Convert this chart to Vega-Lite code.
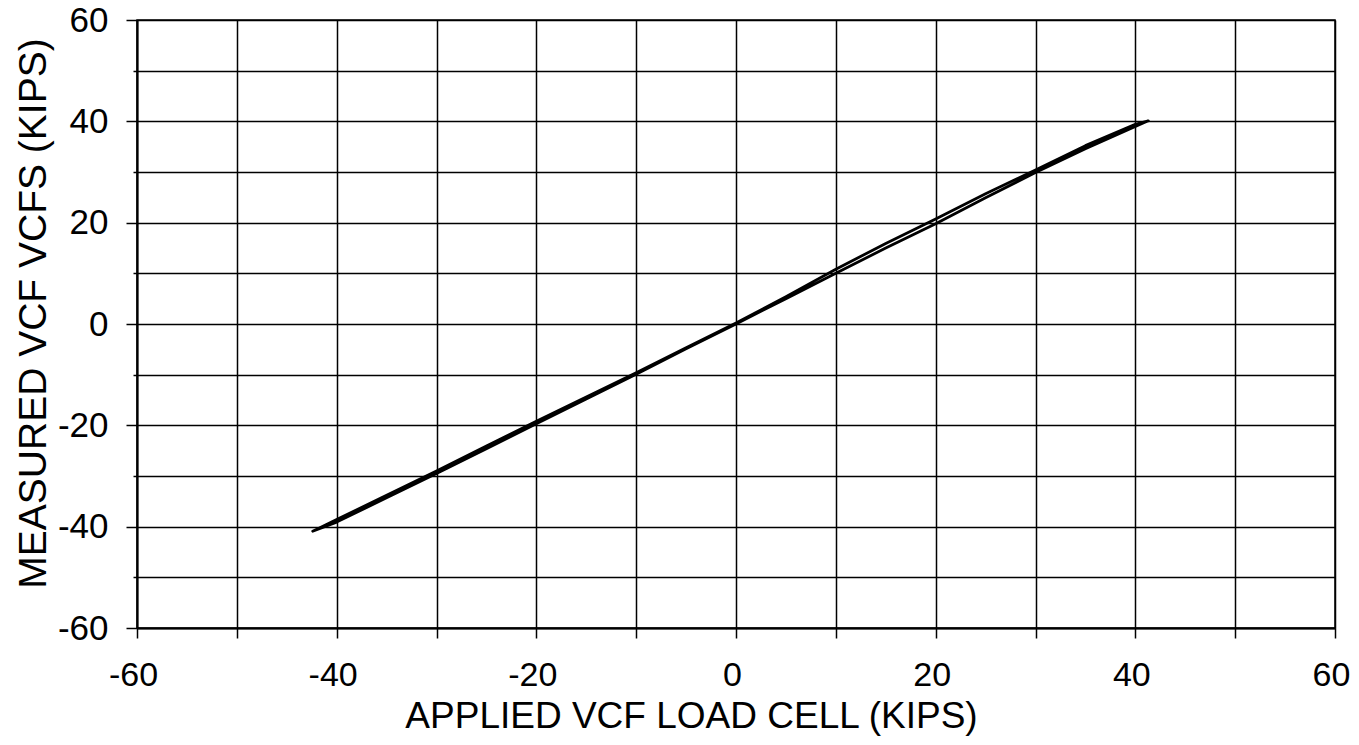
{
  "$schema": "https://vega.github.io/schema/vega-lite/v6.json",
  "width": 1198,
  "height": 608,
  "autosize": {"type": "none"},
  "padding": {"left": 137, "top": 20, "right": 24, "bottom": 117},
  "background": "white",
  "config": {
    "view": {"stroke": "black", "strokeWidth": 1.5},
    "font": "Liberation Sans"
  },
  "data": {
    "values": [
      {"i": 1, "x": 0, "y": 0},
      {"i": 2, "x": 5, "y": 5.0},
      {"i": 3, "x": 10, "y": 10.0},
      {"i": 4, "x": 15, "y": 15.0},
      {"i": 5, "x": 20, "y": 19.8},
      {"i": 6, "x": 25, "y": 24.9},
      {"i": 7, "x": 30, "y": 29.9},
      {"i": 8, "x": 35, "y": 34.6},
      {"i": 9, "x": 40, "y": 39.0},
      {"i": 10, "x": 41.3, "y": 40.1},
      {"i": 11, "x": 40, "y": 39.4},
      {"i": 12, "x": 35, "y": 35.2},
      {"i": 13, "x": 30, "y": 30.4},
      {"i": 14, "x": 25, "y": 25.7},
      {"i": 15, "x": 20, "y": 20.7},
      {"i": 16, "x": 15, "y": 15.9},
      {"i": 17, "x": 10, "y": 10.8},
      {"i": 18, "x": 5, "y": 5.4},
      {"i": 19, "x": 0, "y": 0.2},
      {"i": 20, "x": -5, "y": -4.7},
      {"i": 21, "x": -10, "y": -9.6},
      {"i": 22, "x": -15, "y": -14.4},
      {"i": 23, "x": -20, "y": -19.2},
      {"i": 24, "x": -25, "y": -24.1},
      {"i": 25, "x": -30, "y": -29.0},
      {"i": 26, "x": -35, "y": -33.8},
      {"i": 27, "x": -40, "y": -38.6},
      {"i": 28, "x": -42.4, "y": -40.9},
      {"i": 29, "x": -40, "y": -39.1},
      {"i": 30, "x": -35, "y": -34.3},
      {"i": 31, "x": -30, "y": -29.5},
      {"i": 32, "x": -25, "y": -24.6},
      {"i": 33, "x": -20, "y": -19.7},
      {"i": 34, "x": -15, "y": -14.8},
      {"i": 35, "x": -10, "y": -9.9},
      {"i": 36, "x": -5, "y": -4.9},
      {"i": 37, "x": 0, "y": 0}
    ]
  },
  "mark": {"type": "line", "color": "black", "strokeWidth": 2.8, "strokeJoin": "round"},
  "encoding": {
    "order": {"field": "i", "type": "quantitative"},
    "x": {
      "field": "x",
      "type": "quantitative",
      "scale": {"domain": [-60, 60], "nice": false, "zero": false},
      "axis": {
        "values": [-60, -50, -40, -30, -20, -10, 0, 10, 20, 30, 40, 50, 60],
        "labelExpr": "datum.value % 20 === 0 ? '' + datum.value : ''",
        "grid": true,
        "gridColor": "black",
        "gridWidth": 1.5,
        "gridOpacity": 1,
        "domainColor": "black",
        "domainWidth": 2,
        "tickColor": "black",
        "tickWidth": 1.5,
        "tickSize": 10,
        "labelFont": "Liberation Sans",
        "labelFontSize": 34,
        "labelColor": "black",
        "labelBaseline": "middle",
        "labelPadding": 37,
        "labelOffset": -4,
        "labelFlush": false,
        "labelOverlap": false,
        "title": "APPLIED VCF LOAD CELL (KIPS)",
        "titleFont": "Liberation Sans",
        "titleFontSize": 37,
        "titleFontWeight": "normal",
        "titleColor": "black",
        "titleX": 554,
        "titleY": 99,
        "titleAlign": "center",
        "titleBaseline": "alphabetic"
      }
    },
    "y": {
      "field": "y",
      "type": "quantitative",
      "scale": {"domain": [-60, 60], "nice": false, "zero": false},
      "axis": {
        "values": [-60, -50, -40, -30, -20, -10, 0, 10, 20, 30, 40, 50, 60],
        "labelExpr": "datum.value % 20 === 0 ? '' + datum.value : ''",
        "grid": true,
        "gridColor": "black",
        "gridWidth": 1.5,
        "gridOpacity": 1,
        "domainColor": "black",
        "domainWidth": 2,
        "tickColor": "black",
        "tickWidth": 1.5,
        "tickSize": {"condition": {"test": "datum.value % 20 === 0", "value": 11}, "value": 4},
        "labelFont": "Liberation Sans",
        "labelFontSize": 35,
        "labelColor": "black",
        "labelPadding": 18,
        "labelFlush": false,
        "labelOverlap": false,
        "title": "MEASURED VCF VCFS (KIPS)",
        "titleFont": "Liberation Sans",
        "titleFontSize": 39,
        "titleFontWeight": "normal",
        "titleColor": "black",
        "titleAngle": -90,
        "titleX": -92,
        "titleY": 293,
        "titleAlign": "center",
        "titleBaseline": "alphabetic"
      }
    }
  }
}
